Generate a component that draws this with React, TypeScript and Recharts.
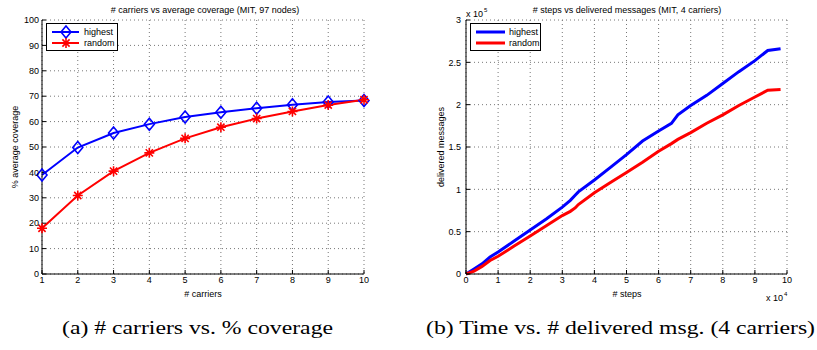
import { LineChart, Line, XAxis, YAxis, CartesianGrid, Legend } from 'recharts';

// left panel: # carriers vs average coverage
const carriers = [1, 2, 3, 4, 5, 6, 7, 8, 9, 10];
const highestCoverage = [39.0, 49.8, 55.5, 59.0, 61.8, 63.7, 65.3, 66.6, 67.7, 68.3];
const randomCoverage = [18.0, 30.9, 40.5, 47.7, 53.4, 57.8, 61.2, 64.0, 66.5, 68.6];
const coverageTicks = [0, 10, 20, 30, 40, 50, 60, 70, 80, 90, 100];

// right panel: # steps vs delivered messages
const steps = [
  0, 2500, 5000, 7500, 10000, 15000, 20000, 25000, 30000, 32500, 34000, 35000,
  40000, 45000, 50000, 55000, 60000, 64000, 66000, 70000, 75000, 80000, 85000,
  90000, 94000, 98000,
];
const highestDelivered = [
  0, 6000, 12000, 20000, 26000, 39000, 52000, 65000, 79000, 87000, 93000, 97000,
  111000, 126000, 141000, 157000, 169000, 178000, 188000, 199000, 211000, 225000,
  239000, 252000, 264000, 266000,
];
const randomDelivered = [
  0, 3500, 9000, 16000, 21000, 33000, 45000, 57000, 69000, 74000, 78000, 82000,
  96000, 108000, 120000, 132000, 145000, 154000, 159000, 167000, 178000, 188000,
  199000, 209000, 217000, 218000,
];
const stepTicks = [0, 10000, 20000, 30000, 40000, 50000, 60000, 70000, 80000, 90000, 100000];
const deliveredTicks = [0, 50000, 100000, 150000, 200000, 250000, 300000];

const BLUE = '#0000ff';
const RED = '#ff0000';
const SANS = '"Liberation Sans", Arial, sans-serif';
const SERIF = '"Liberation Serif", "Times New Roman", serif';

const coverageData = carriers.map((c, i) => ({
  carriers: c, highest: highestCoverage[i], random: randomCoverage[i],
}));
const deliveredData = steps.map((s, i) => ({
  steps: s, highest: highestDelivered[i], random: randomDelivered[i],
}));

const tickStyle = { fill: '#000', fontSize: 9, fontFamily: SANS };

const Diamond = ({ cx, cy }: { cx: number; cy: number }) => (
  <path d={`M${cx},${cy - 6} L${cx + 5},${cy} L${cx},${cy + 6} L${cx - 5},${cy} Z`}
    fill="none" stroke={BLUE} strokeWidth={1.6} />
);

const Star = ({ cx, cy }: { cx: number; cy: number }) => {
  const r = 5;
  const d = r * 0.72;
  return (
    <path d={`M${cx - r},${cy} L${cx + r},${cy} M${cx},${cy - r} L${cx},${cy + r} M${cx - d},${cy - d} L${cx + d},${cy + d} M${cx - d},${cy + d} L${cx + d},${cy - d}`}
      stroke={RED} strokeWidth={1.6} fill="none" />
  );
};

const diamondDot = (p: any) => <Diamond key={`d${p.index}`} cx={p.cx} cy={p.cy} />;
const starDot = (p: any) => <Star key={`s${p.index}`} cx={p.cx} cy={p.cy} />;

const LegendBox = ({ markers, width }: { markers: boolean; width: number }) => (
  <svg width={width} height={28} style={{ display: 'block' }}>
    <rect x={0.5} y={0.5} width={width - 1} height={27} fill="#fff" stroke="#000" strokeWidth={1} />
    <line x1={6} x2={markers ? 33 : 35} y1={9} y2={9} stroke={BLUE} strokeWidth={markers ? 2 : 3} />
    <line x1={6} x2={markers ? 33 : 35} y1={20} y2={20} stroke={RED} strokeWidth={markers ? 2 : 3} />
    {markers && <Diamond cx={20} cy={9} />}
    {markers && <Star cx={20} cy={20} />}
    <text x={markers ? 38 : 39} y={12} fontSize={9} fontFamily={SANS}>highest</text>
    <text x={markers ? 38 : 39} y={23} fontSize={9} fontFamily={SANS}>random</text>
  </svg>
);

function CoverageChart() {
  return (
    <LineChart width={410} height={300} data={coverageData}
      margin={{ top: 20, right: 46, bottom: 0, left: 0 }}>
      <CartesianGrid stroke="#777" strokeDasharray="1 3" />
      <XAxis dataKey="carriers" type="number" domain={[1, 10]} ticks={carriers}
        height={26} stroke="#000" tickSize={-4} tickMargin={7} tick={tickStyle} />
      <XAxis xAxisId="top" orientation="top" type="number" domain={[1, 10]} ticks={carriers}
        height={0} stroke="#000" tickSize={-4} tick={false} />
      <YAxis type="number" domain={[0, 100]} ticks={coverageTicks} width={42}
        stroke="#000" tickSize={-4} tickMargin={7} tick={tickStyle} />
      <YAxis yAxisId="right" orientation="right" type="number" domain={[0, 100]}
        ticks={coverageTicks} width={0} stroke="#000" tickSize={-4} tick={false} />
      <Legend verticalAlign="middle" align="center" layout="horizontal"
        wrapperStyle={{ top: 23, left: 46, width: 72, height: 28 }}
        content={() => <LegendBox markers width={72} />} />
      <Line dataKey="highest" name="highest" stroke={BLUE} strokeWidth={2}
        dot={diamondDot} isAnimationActive={false} />
      <Line dataKey="random" name="random" stroke={RED} strokeWidth={2}
        dot={starDot} isAnimationActive={false} />
    </LineChart>
  );
}

function DeliveredChart() {
  return (
    <LineChart width={407} height={300} data={deliveredData}
      margin={{ top: 20, right: 30, bottom: 0, left: 0 }}>
      <CartesianGrid stroke="#777" strokeDasharray="1 3" />
      <XAxis dataKey="steps" type="number" domain={[0, 100000]} ticks={stepTicks}
        tickFormatter={(v: number) => String(v / 10000)}
        height={26} stroke="#000" tickSize={-4} tickMargin={7} tick={tickStyle} />
      <XAxis xAxisId="top" orientation="top" type="number" domain={[0, 100000]} ticks={stepTicks}
        height={0} stroke="#000" tickSize={-4} tick={false} />
      <YAxis type="number" domain={[0, 300000]} ticks={deliveredTicks} width={56}
        tickFormatter={(v: number) => String(v / 100000)}
        stroke="#000" tickSize={-4} tickMargin={9} tick={tickStyle} />
      <YAxis yAxisId="right" orientation="right" type="number" domain={[0, 300000]}
        ticks={deliveredTicks} width={0} stroke="#000" tickSize={-4} tick={false} />
      <Legend verticalAlign="middle" align="center" layout="horizontal"
        wrapperStyle={{ top: 23, left: 60, width: 71, height: 28 }}
        content={() => <LegendBox markers={false} width={71} />} />
      <Line dataKey="highest" name="highest" stroke={BLUE} strokeWidth={3}
        dot={false} isAnimationActive={false} />
      <Line dataKey="random" name="random" stroke={RED} strokeWidth={3}
        dot={false} isAnimationActive={false} />
    </LineChart>
  );
}

export default function App() {
  return (
    <div style={{ position: 'absolute', left: 0, top: 0, width: 817, height: 350, background: '#fff' }}>
      <div style={{ position: 'absolute', left: 0, top: 0 }}>
        <CoverageChart />
      </div>
      <div style={{ position: 'absolute', left: 410, top: 0 }}>
        <DeliveredChart />
      </div>
      <svg width={817} height={350} style={{ position: 'absolute', left: 0, top: 0, pointerEvents: 'none' }}>
        <g fontFamily={SANS} fontSize={9} fill="#000">
          <text x={205} y={13} textAnchor="middle">
            # carriers vs average coverage (MIT, 97 nodes)
          </text>
          <text x={627} y={13} textAnchor="middle">
            # steps vs delivered messages (MIT, 4 carriers)
          </text>
          <text x={203} y={297} textAnchor="middle"># carriers</text>
          <text x={627} y={297} textAnchor="middle"># steps</text>
          <text transform="translate(18,147) rotate(-90)" textAnchor="middle">% average coverage</text>
          <text transform="translate(444,147) rotate(-90)" textAnchor="middle">delivered messages</text>
          <text x={466} y={17}>x 10</text>
          <text x={484} y={12} fontSize={6}>5</text>
          <text x={766} y={301}>x 10</text>
          <text x={784} y={296} fontSize={6}>4</text>
        </g>
        <g fontFamily={SERIF} fontSize={18} fill="#000">
          <text x={62} y={334} textLength={271} lengthAdjust="spacingAndGlyphs">
            (a) # carriers vs. % coverage
          </text>
          <text x={426} y={334} textLength={389} lengthAdjust="spacingAndGlyphs">
            (b) Time vs. # delivered msg. (4 carriers)
          </text>
        </g>
      </svg>
    </div>
  );
}
